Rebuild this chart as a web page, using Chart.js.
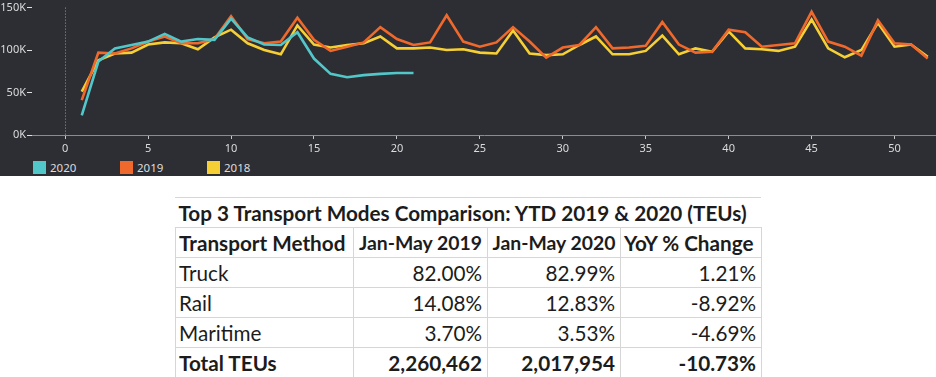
<!DOCTYPE html>
<html>
<head>
<meta charset="utf-8">
<script src="https://cdn.jsdelivr.net/npm/chart.js@4/dist/chart.umd.min.js"></script>
<style>
  html, body { margin: 0; padding: 0; background: #fff; }
  body { width: 936px; height: 377px; position: relative; overflow: hidden; }
  .dark { position: absolute; left: 0; top: 0; width: 936px; height: 176px; background: #2d2e33; }
  .chart-box { position: absolute; left: 0; top: 0; width: 936px; height: 158px; }
  .legend { position: absolute; left: 0; top: 158px; width: 936px; height: 18px;
    font: 11.5px "Noto Sans", sans-serif; color: #ddd; }
  .legend .item { position: absolute; top: 3px; height: 13px; line-height: 13px; }
  .legend .sw { display: inline-block; width: 13px; height: 13px; vertical-align: top; margin-right: 4px; }
  table.modes { position: absolute; left: 175px; top: 197px; width: 586px; table-layout: fixed;
    border-collapse: collapse; font: 20.7px Lato, "Open Sans", sans-serif; color: #1c1c1c; }
  table.modes td { height: 29px; padding: 0 5px 0 3px; border: 1px solid #d6d6d6; white-space: nowrap; overflow: visible; }
  table.modes td.num { text-align: right; }
  table.modes .b { font-weight: bold; }
  table.modes td.mid { text-align: center; font-size: 19.4px; padding: 0; }
  table.modes td.title { text-align: center; font-weight: bold; border-left-color: #fff; border-right-color: #fff; padding: 0 12px 0 0; }
</style>
</head>
<body>
<div class="dark"></div>
<div class="chart-box"><canvas id="teu-chart" width="936" height="158"></canvas></div>
<div class="legend" id="teu-legend"></div>
<table class="modes" id="modes-table"></table>

<script>
// Weekly TEUs (week number on x), three years
const weeks = Array.from({ length: 52 }, (_, i) => i + 1);
const teu2020 = [23000, 86500, 102000, 106000, 110000, 119000, 110000, 113000, 112000, 137000,
  115000, 106500, 106000, 121000, 90000, 72000, 68000, 70500, 72000, 73000, 73000];
const teu2019 = [41000, 97000, 96000, 102000, 110000, 116000, 108000, 108000, 113000, 140000,
  113000, 108000, 110000, 138000, 112000, 99000, 104000, 109000, 127000, 113000,
  106000, 109000, 141000, 110000, 104000, 109000, 127000, 110000, 91000, 103000,
  106000, 127000, 102000, 103000, 105000, 133000, 106500, 97000, 98000, 124000,
  121000, 104000, 106000, 108000, 145000, 110000, 104000, 93500, 135000, 108000,
  106500, 90000];
const teu2018 = [51000, 88000, 96000, 97000, 106500, 109000, 108000, 101000, 115000, 124000,
  108000, 100000, 95000, 129000, 106500, 103000, 106000, 108000, 116000, 102000,
  102000, 103000, 100000, 101000, 97000, 96000, 123000, 96000, 94000, 95000,
  106000, 116000, 95000, 95000, 99000, 117000, 95000, 102000, 98000, 122000,
  102000, 101000, 99000, 104000, 136000, 102000, 91500, 100000, 132000, 104000,
  106500, 92000];

const seriesNames = ['2020', '2019', '2018'];
const seriesColors = ['#52c7c9', '#f0692c', '#f6cf35'];
const xTickValues = [0, 5, 10, 15, 20, 25, 30, 35, 40, 45, 50];
const yTickValues = [0, 50000, 100000, 150000];

// Table: YTD mode comparison
const tableTitle = 'Top 3 Transport Modes Comparison: YTD 2019 & 2020 (TEUs)';
const tableHead = ['Transport Method', 'Jan-May 2019', 'Jan-May 2020', 'YoY % Change'];
const modes = ['Truck', 'Rail', 'Maritime'];
const share2019 = ['82.00%', '14.08%', '3.70%'];
const share2020 = ['82.99%', '12.83%', '3.53%'];
const yoyChange = ['1.21%', '-8.92%', '-4.69%'];
const totalRow = ['Total TEUs', '2,260,462', '2,017,954', '-10.73%'];

const toPoints = vals => vals.map((v, i) => ({ x: weeks[i], y: v }));
const allSeries = [teu2020, teu2019, teu2018];

const tickFont = { family: '"Noto Sans", sans-serif', size: 11 };

new Chart(document.getElementById('teu-chart'), {
  type: 'line',
  data: {
    datasets: allSeries.map((vals, i) => ({
      label: seriesNames[i],
      data: toPoints(vals),
      borderColor: seriesColors[i],
      backgroundColor: seriesColors[i],
      borderWidth: 2.6,
      pointRadius: 0,
      tension: 0,
      fill: false
    }))
  },
  options: {
    responsive: false,
    animation: false,
    layout: { padding: { top: 5, right: 0, left: 0, bottom: 0 } },
    plugins: { legend: { display: false }, tooltip: { enabled: false } },
    scales: {
      x: {
        type: 'linear', min: -2, max: 52.5,
        afterBuildTicks: s => { s.ticks = xTickValues.map(v => ({ value: v })); },
        afterFit: s => { s.height = 23; },
        grid: {
          // only the zero line is drawn inside the plot, dotted
          color: c => (c.tick && c.tick.value === 0 ? '#9a9a9a' : 'rgba(0,0,0,0)'),
          tickColor: '#c8c8c8', tickLength: 4, lineWidth: 1
        },
        border: { color: '#8c8c8c', width: 1, dash: [1, 2] },
        ticks: { color: '#dcdcdc', font: tickFont, padding: 3, maxRotation: 0 }
      },
      y: {
        min: 0, max: 150000,
        afterBuildTicks: s => { s.ticks = yTickValues.map(v => ({ value: v })); },
        afterFit: s => { s.width = 32; },
        grid: { drawOnChartArea: false, tickColor: '#e0e0e0', tickLength: 5 },
        border: { color: 'rgba(0,0,0,0)' },
        ticks: { color: '#dcdcdc', font: tickFont, padding: 1, callback: v => (v / 1000) + 'K' }
      }
    }
  }
});

// Legend with fixed-width items
const legendX = [33, 120, 207];
document.getElementById('teu-legend').innerHTML = seriesNames.map((n, i) =>
  `<div class="item" style="left:${legendX[i]}px"><span class="sw" style="background:${seriesColors[i]}"></span>${n}</div>`).join('');

// Build the table
const colW = [178, 134, 133, 141];
let html = '<colgroup>' + colW.map(w => `<col style="width:${w}px">`).join('') + '</colgroup>';
html += `<tr><td class="title" colspan="4">${tableTitle.replace('&', '&amp;')}</td></tr>`;
html += '<tr>' + tableHead.map((h, i) => `<td class="b${i === 1 || i === 2 ? ' mid' : ''}">${h}</td>`).join('') + '</tr>';
modes.forEach((m, i) => {
  html += `<tr><td>${m}</td><td class="num">${share2019[i]}</td><td class="num">${share2020[i]}</td><td class="num">${yoyChange[i]}</td></tr>`;
});
html += '<tr>' + totalRow.map((t, i) => `<td class="b${i ? ' num' : ''}">${t}</td>`).join('') + '</tr>';
document.getElementById('modes-table').innerHTML = html;
</script>
</body>
</html>
